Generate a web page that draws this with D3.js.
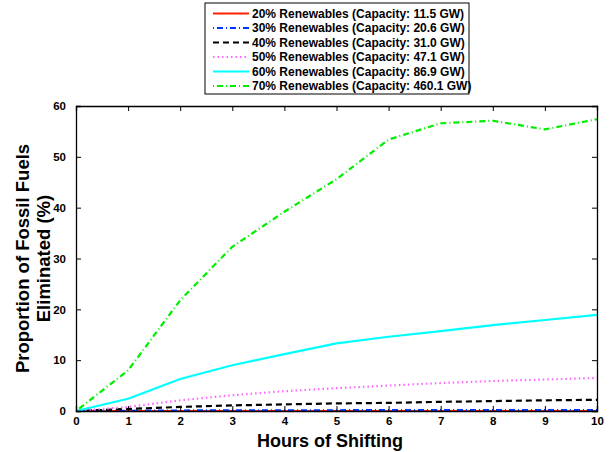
<!DOCTYPE html>
<html>
<head>
<meta charset="utf-8">
<script src="https://cdn.jsdelivr.net/npm/d3@7"></script>
<style>
  body { margin: 0; background: #fff; }
  svg text { font-family: "Liberation Sans", Arial, Helvetica, sans-serif; font-weight: bold; }
</style>
</head>
<body>
<div id="chart"></div>
<script>
// data
const hours = [0, 1, 2, 3, 4, 5, 6, 7, 8, 9, 10];
const ren20 = [0, 0, 0, 0, 0, 0, 0, 0, 0, 0, 0];
const ren30 = [0, 0.05, 0.1, 0.12, 0.15, 0.15, 0.17, 0.18, 0.2, 0.2, 0.2];
const ren40 = [0, 0.4, 0.8, 1.1, 1.3, 1.5, 1.6, 1.8, 1.95, 2.1, 2.2];
const ren50 = [0, 0.8, 2.1, 3.1, 3.9, 4.5, 5.0, 5.5, 5.9, 6.2, 6.5];
const ren60 = [0, 2.4, 6.3, 9.0, 11.2, 13.3, 14.6, 15.7, 16.9, 17.9, 18.9];
const ren70 = [0, 8.0, 21.8, 32.3, 39.2, 45.6, 53.4, 56.6, 57.1, 55.4, 57.4];
const xTicks = [0, 1, 2, 3, 4, 5, 6, 7, 8, 9, 10];
const yTicks = [0, 10, 20, 30, 40, 50, 60];

const series = [
  { name: '20% Renewables (Capacity: 11.5 GW)', values: ren20, color: '#ff2200', dash: null },
  { name: '30% Renewables (Capacity: 20.6 GW)', values: ren30, color: '#0033ff', dash: '1,3,6,3' },
  { name: '40% Renewables (Capacity: 31.0 GW)', values: ren40, color: '#000000', dash: '6,4' },
  { name: '50% Renewables (Capacity: 47.1 GW)', values: ren50, color: '#ff66ff', dash: '1.5,3' },
  { name: '60% Renewables (Capacity: 86.9 GW)', values: ren60, color: '#00ffff', dash: null },
  { name: '70% Renewables (Capacity: 460.1 GW)', values: ren70, color: '#00ee00', dash: '1,3,6,3' }
];

const W = 611, H = 452;
const margin = { top: 106, right: 14, bottom: 41, left: 76 };
const width = W - margin.left - margin.right;
const height = H - margin.top - margin.bottom;

const svg = d3.select('#chart').append('svg')
  .attr('width', W)
  .attr('height', H);

const g = svg.append('g')
  .attr('transform', `translate(${margin.left},${margin.top})`);

const x = d3.scaleLinear().domain([0, 10]).range([0, width]);
const y = d3.scaleLinear().domain([0, 60]).range([height, 0]);

// lines
const line = d3.line()
  .x((d, i) => x(hours[i]))
  .y(d => y(d));

g.selectAll('.series')
  .data(series)
  .enter().append('path')
  .attr('class', 'series')
  .attr('fill', 'none')
  .attr('stroke', d => d.color)
  .attr('stroke-width', 2.2)
  .attr('stroke-dasharray', d => d.dash)
  .attr('d', d => line(d.values));

// axes (ticks inward, box)
const tickLen = 5;
const xAxis = g.append('g')
  .attr('transform', `translate(0,${height})`)
  .call(d3.axisBottom(x).tickValues(xTicks).tickSize(-tickLen).tickPadding(7).tickFormat(d3.format('d')));
const xTop = g.append('g')
  .call(d3.axisTop(x).tickValues(xTicks).tickSize(-tickLen).tickFormat(''));
const yAxis = g.append('g')
  .call(d3.axisLeft(y).tickValues(yTicks).tickSize(-tickLen).tickPadding(10).tickFormat(d3.format('d')));
const yRight = g.append('g')
  .attr('transform', `translate(${width},0)`)
  .call(d3.axisRight(y).tickValues(yTicks).tickSize(-tickLen).tickFormat(''));

[xAxis, xTop, yAxis, yRight].forEach(a => {
  a.select('.domain').attr('stroke', '#000').attr('stroke-width', 1.3);
  a.selectAll('.tick line').attr('stroke', '#000').attr('stroke-width', 1);
  a.selectAll('.tick text').attr('font-size', 11.5).attr('fill', '#000');
});
xAxis.selectAll('.tick text').attr('dy', '0.6em');

// axis titles
svg.append('text')
  .attr('x', 330)
  .attr('y', 447)
  .attr('text-anchor', 'middle')
  .attr('font-size', 18)
  .text('Hours of Shifting');

const yTitle = svg.append('text')
  .attr('transform', `translate(29,${margin.top + height / 2}) rotate(-90)`)
  .attr('text-anchor', 'middle')
  .attr('font-size', 18.5);
yTitle.append('tspan').attr('x', 0).attr('dy', 0).text('Proportion of Fossil Fuels');
yTitle.append('tspan').attr('x', 0).attr('dy', 21).text('Eliminated (%)');

// legend
const legend = svg.append('g').attr('transform', 'translate(205,3)');
legend.append('rect')
  .attr('width', 264)
  .attr('height', 91)
  .attr('fill', '#fff')
  .attr('stroke', '#000')
  .attr('stroke-width', 1);

const rows = legend.selectAll('.legend-row')
  .data(series)
  .enter().append('g')
  .attr('class', 'legend-row')
  .attr('transform', (d, i) => `translate(0,${10.5 + i * 14.5})`);

rows.append('line')
  .attr('x1', 8).attr('x2', 44)
  .attr('stroke', d => d.color)
  .attr('stroke-width', 2.2)
  .attr('stroke-dasharray', d => d.dash);

rows.append('text')
  .attr('x', 47)
  .attr('dy', '0.35em')
  .attr('font-size', 12)
  .text(d => d.name);
</script>
</body>
</html>
